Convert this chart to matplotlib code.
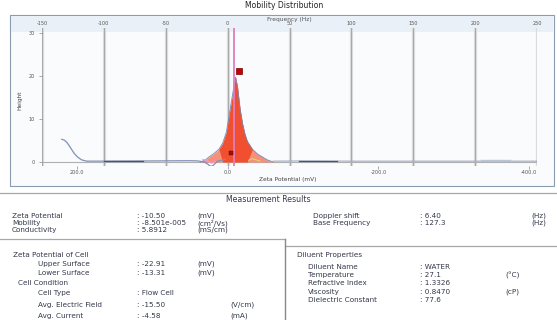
import numpy as np
import matplotlib
matplotlib.use('Agg')
import matplotlib.pyplot as plt
from matplotlib.patches import Rectangle
from matplotlib.lines import Line2D

W, H = 557, 320

# axes ticks
freq_ticks = [-150, -100, -50, 0, 50, 100, 150, 200, 250]
zeta_ticks = [200, 0, -200, -400]
zeta_labels = ['200.0', '0.0', '-200.0', '-400.0']
height_ticks = [0, 10, 20, 30]
zeta_per_hz = -10.50 / 6.40

# distribution peak (Hz, height)
dist_f = [-22, -18, -15, -11, -7, -4, -1, 1, 3, 5, 6.4, 8, 10, 12, 14, 16, 20, 24, 28, 32, 37]
dist_h = [0, 0.5, 1.2, 2.0, 3.0, 4.4, 7.0, 10.5, 14.0, 17.5, 19.8, 17.5, 12.5, 9.0, 6.5, 4.8, 3.0, 1.9, 1.2, 0.5, 0]

# raw signal, left part and right part
raw_f = [-134, -132, -130, -128, -126, -124, -121, -118, -114, -100, -60, -30, -24, -19, -16, -14, -12, -10, -8, -5, -2]
raw_h = [5.3, 5.1, 4.6, 3.8, 2.9, 2.0, 1.1, 0.5, 0.2, 0.2, 0.25, 0.3, 0.25, 0.0, -0.5, -1.0, -0.9, -0.3, 0.2, 0.4, 0.6]
raw_r_f = [37, 60, 100, 150, 200, 250]
raw_r_h = [0.2, 0.25, 0.2, 0.2, 0.2, 0.2]

dark_segs = [(-100, -68), (58, 88)]
light_seg = (205, 228)
pink_f = [-20, -16, -13, -10]
pink_h = [0.6, 0.2, -0.3, 0.1]
yell_f = [17, 20, 23, 26]
yell_h = [0.4, 0.8, 0.5, 0.2]

mean_f = 5.1
peak_mark = (9.5, 21.2)
low_mark = (2.4, 2.1)

# table
top_left = [('Zeta Potential', ': -10.50', '(mV)'),
            ('Mobility', ': -8.501e-005', '(cm\u00b2/Vs)'),
            ('Conductivity', ': 5.8912', '(mS/cm)')]
top_right = [('Doppler shift', ': 6.40', '(Hz)'),
             ('Base Frequency', ': 127.3', '(Hz)')]
cell_rows = [('Upper Surface', ': -22.91', '(mV)'),
             ('Lower Surface', ': -13.31', '(mV)')]
cond_rows = [('Cell Type', ': Flow Cell', ''),
             ('Avg. Electric Field', ': -15.50', '(V/cm)'),
             ('Avg. Current', ': -4.58', '(mA)')]
diluent_rows = [('Diluent Name', ': WATER', ''),
                ('Temperature', ': 27.1', '(\u00b0C)'),
                ('Refractive Index', ': 1.3326', ''),
                ('Viscosity', ': 0.8470', '(cP)'),
                ('Dielectric Constant', ': 77.6', '')]

fig = plt.figure(figsize=(W / 100, H / 100), dpi=100)
fig.patch.set_facecolor('white')
TS = 5.2


def fx(x):
    return x / W


def fy(y):
    return 1 - y / H


def ftext(x, y, s, size=TS, color='#33384a', **kw):
    fig.text(fx(x), fy(y), s, fontsize=size, color=color, va='center', ha=kw.pop('ha', 'left'), **kw)


def hline(y, x0, x1, color='#a8a8a8', lw=0.9):
    fig.add_artist(Line2D([fx(x0), fx(x1)], [fy(y), fy(y)], color=color, lw=lw, transform=fig.transFigure))


# chart panel
fig.add_artist(Rectangle((fx(10), fy(186)), fx(544), 171 / H, transform=fig.transFigure,
                         facecolor='#fafbfd', edgecolor='#8a9ab0', lw=0.8, zorder=0))
fig.add_artist(Rectangle((fx(11), fy(32)), fx(542), 16 / H, transform=fig.transFigure,
                         facecolor='#eaf0f8', edgecolor='none', zorder=0))

ax = fig.add_axes([fx(42), fy(166), fx(537 - 42), (166 - 28) / H])
ax.set_facecolor('none')
ax.set_xlim(-150, 250)
ax.set_ylim(-0.934, 31.28)
for s in ax.spines.values():
    s.set_visible(False)

for f in freq_ticks:
    ax.axvline(f, color='#e8e8e8', lw=2.4, zorder=1)
    ax.axvline(f, color='#a9a9a9', lw=1.0, zorder=1)
ax.axhline(0, color='#b0b0b0', lw=0.8, zorder=1)

ax.fill_between(dist_f, dist_h, color='#f5907a', lw=0, zorder=2)
df = np.array(dist_f)
ax.fill_between(dist_f, dist_h, where=(np.abs(df - 6.4) <= 13), interpolate=True,
                color='#f0502f', lw=0, zorder=2)
ax.plot(dist_f, dist_h, color='#7888b4', lw=0.6, zorder=3)
ax.plot(raw_f, raw_h, color='#8090b8', lw=0.9, zorder=3)
ax.plot(raw_r_f, raw_r_h, color='#a0aac6', lw=0.8, zorder=3)
for a, b in dark_segs:
    ax.plot([a, b], [0.3, 0.3], color='#4a5470', lw=0.9, zorder=3)
ax.plot(light_seg, [0.35, 0.35], color='#b8c4d8', lw=1.0, zorder=3)
ax.plot(pink_f, pink_h, color='#f09ad0', lw=0.8, zorder=3)
ax.plot(yell_f, yell_h, color='#e8d070', lw=0.8, zorder=3)

ax.axvline(mean_f, color='#e27cbc', lw=1.3, zorder=4)
ax.plot(*peak_mark, marker='s', ms=5, color='#c80000', mec='#7a0000', mew=0.5, zorder=5)
ax.plot(*low_mark, marker='s', ms=2.5, color='#a01010', mec='#600000', mew=0.3, zorder=5)

# top frequency axis
ax.xaxis.tick_top()
ax.set_xticks(freq_ticks)
ax.set_xticklabels([str(f) for f in freq_ticks])
ax.tick_params(axis='x', length=0, pad=1.2, labelsize=3.6, labelcolor='#555555')

# bottom zeta potential axis
sec = ax.secondary_xaxis('bottom', functions=(lambda f: f * zeta_per_hz, lambda z: z / zeta_per_hz))
sec.set_xticks(zeta_ticks)
sec.set_xticklabels(zeta_labels)
sec.tick_params(length=2, width=0.5, color='#888888', pad=0.8, labelsize=3.6, labelcolor='#555555')
for s in sec.spines.values():
    s.set_visible(False)

ax.set_yticks(height_ticks)
ax.set_yticklabels([str(v) for v in height_ticks])
ax.tick_params(axis='y', length=2, width=0.5, color='#888888', pad=3, labelsize=3.6, labelcolor='#555555')

ftext(289, 19.5, 'Frequency (Hz)', size=4.2, color='#555555', ha='center')
ftext(288, 179, 'Zeta Potential (mV)', size=4.2, color='#444444', ha='center')
ftext(20, 100, 'Height', size=4.2, color='#444444', ha='center', rotation=90)
ftext(284, 5, 'Mobility Distribution', size=5.5, color='#222222', ha='center')

# results table
hline(193, 0, 557)
ftext(268, 200, 'Measurement Results', size=5.6, ha='center')

for i, (lab, val, unit) in enumerate(top_left):
    y = 216 + 7 * i
    ftext(12, y, lab)
    ftext(137, y, val)
    ftext(197, y, unit)
for i, (lab, val, unit) in enumerate(top_right):
    y = 216 + 7 * i
    ftext(313, y, lab)
    ftext(420, y, val)
    ftext(531, y, unit)

hline(239, 0, 285)
hline(246, 285, 557)
fig.add_artist(Line2D([fx(285), fx(285)], [fy(239), fy(320)], color='#888888', lw=1.0,
                      transform=fig.transFigure))

ftext(13, 255, 'Zeta Potential of Cell')
for (lab, val, unit), y in zip(cell_rows, [264, 273]):
    ftext(38, y, lab)
    ftext(137, y, val)
    ftext(197, y, unit)
ftext(18, 283, 'Cell Condition')
for (lab, val, unit), y in zip(cond_rows, [293, 305, 316]):
    ftext(38, y, lab)
    ftext(137, y, val)
    ftext(230, y, unit)

ftext(297, 255, 'Diluent Properties')
for (lab, val, unit), y in zip(diluent_rows, [267, 275, 283, 292, 300]):
    ftext(308, y, lab)
    ftext(420, y, val)
    ftext(505, y, unit)

fig.savefig('out.png', dpi=100, facecolor='white')
